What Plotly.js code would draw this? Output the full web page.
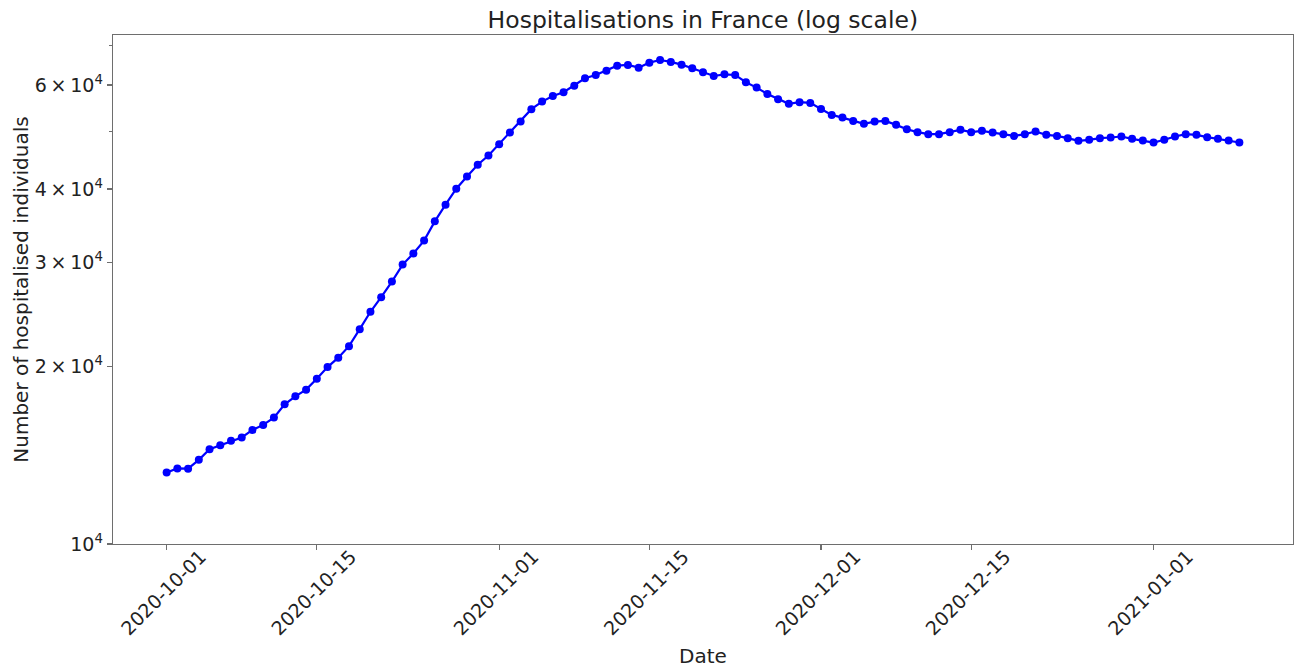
<!DOCTYPE html>
<html>
<head>
<meta charset="utf-8">
<script src="https://cdn.plot.ly/plotly-3.0.1.min.js"></script>
<style>html,body{margin:0;padding:0;background:#fff;}#chart{width:1298px;height:669px;}</style>
</head>
<body>
<div id="chart"></div>
<script>
const dates = [
"2020-10-01","2020-10-02","2020-10-03","2020-10-04","2020-10-05","2020-10-06","2020-10-07","2020-10-08","2020-10-09","2020-10-10",
"2020-10-11","2020-10-12","2020-10-13","2020-10-14","2020-10-15","2020-10-16","2020-10-17","2020-10-18","2020-10-19","2020-10-20",
"2020-10-21","2020-10-22","2020-10-23","2020-10-24","2020-10-25","2020-10-26","2020-10-27","2020-10-28","2020-10-29","2020-10-30",
"2020-10-31","2020-11-01","2020-11-02","2020-11-03","2020-11-04","2020-11-05","2020-11-06","2020-11-07","2020-11-08","2020-11-09",
"2020-11-10","2020-11-11","2020-11-12","2020-11-13","2020-11-14","2020-11-15","2020-11-16","2020-11-17","2020-11-18","2020-11-19",
"2020-11-20","2020-11-21","2020-11-22","2020-11-23","2020-11-24","2020-11-25","2020-11-26","2020-11-27","2020-11-28","2020-11-29",
"2020-11-30","2020-12-01","2020-12-02","2020-12-03","2020-12-04","2020-12-05","2020-12-06","2020-12-07","2020-12-08","2020-12-09",
"2020-12-10","2020-12-11","2020-12-12","2020-12-13","2020-12-14","2020-12-15","2020-12-16","2020-12-17","2020-12-18","2020-12-19",
"2020-12-20","2020-12-21","2020-12-22","2020-12-23","2020-12-24","2020-12-25","2020-12-26","2020-12-27","2020-12-28","2020-12-29",
"2020-12-30","2020-12-31","2021-01-01","2021-01-02","2021-01-03","2021-01-04","2021-01-05","2021-01-06","2021-01-07","2021-01-08",
"2021-01-09"
];
const hospitalised = [
13220,13430,13420,13890,14480,14710,14960,15160,15610,15920,
16380,17250,17800,18270,19070,19950,20700,21650,23130,24760,
26210,27860,29770,31080,32690,35240,37610,40040,42000,43950,
45570,47640,49840,52020,54600,56250,57500,58340,59860,61610,
62410,63460,64710,64890,64210,65480,66160,65660,64970,64060,
63060,62160,62570,62410,60660,59400,57960,56780,55750,56120,
55960,54660,53400,52840,52160,51570,52020,52160,51360,50500,
49920,49530,49530,49920,50370,49920,50180,49840,49530,49200,
49530,50040,49400,49200,48770,48260,48450,48770,48890,49080,
48640,48320,47940,48450,49080,49530,49400,48960,48640,48320,
47940
];
const xTickVals = ["2020-10-01","2020-10-15","2020-11-01","2020-11-15","2020-12-01","2020-12-15","2021-01-01"];
const xTickText = ["2020-10-01","2020-10-15","2020-11-01","2020-11-15","2020-12-01","2020-12-15","2021-01-01"];
const yTickVals = [10000,20000,30000,40000,60000];
const yTickText = ["10<sup>4</sup>","2\u2009×\u200910<sup>4</sup>","3\u2009×\u200910<sup>4</sup>","4\u2009×\u200910<sup>4</sup>","6\u2009×\u200910<sup>4</sup>"];
const yMinorVals = [50000,70000];

const font = "DejaVu Sans, Arial, sans-serif";
const axisColor = "#6e6e6e";
const textColor = "#222";

const trace = {
  x: dates, y: hospitalised, type: "scatter", mode: "lines+markers",
  line: {color: "#0000ff", width: 2.2},
  marker: {color: "#0000ff", size: 8},
  hoverinfo: "x+y"
};

const layout = {
  width: 1298, height: 669,
  margin: {l: 113, r: 5, t: 35, b: 125},
  paper_bgcolor: "#fff", plot_bgcolor: "#fff",
  showlegend: false,
  font: {family: font, color: textColor, size: 19},
  title: {text: "Hospitalisations in France (log scale)", x: 0.5415, xanchor: "center", y: 0.97, yanchor: "middle",
          font: {family: font, size: 23.5, color: textColor}},
  xaxis: {
    type: "date",
    range: ["2020-09-26", "2021-01-14"],
    tickmode: "array", tickvals: xTickVals, ticktext: xTickText,
    tickangle: -45, ticks: "outside", ticklen: 5, tickcolor: axisColor, tickwidth: 1.2,
    ticklabelshift: 34, ticklabelstandoff: -12,
    showgrid: false, zeroline: false,
    showline: true, linecolor: axisColor, linewidth: 1.3, mirror: true,
    tickfont: {family: font, size: 19, color: textColor},
    title: {text: "Date", font: {family: font, size: 20, color: textColor}, standoff: 10},
    automargin: false
  },
  yaxis: {
    type: "log",
    range: [4, 4.863],
    tickmode: "array", tickvals: yTickVals, ticktext: yTickText,
    ticks: "outside", ticklen: 5, tickcolor: axisColor, tickwidth: 1.2,
    minor: {tickvals: yMinorVals, ticks: "outside", ticklen: 3, tickcolor: axisColor, tickwidth: 1, showgrid: false},
    showgrid: false, zeroline: false,
    showline: true, linecolor: axisColor, linewidth: 1.3, mirror: true,
    tickfont: {family: font, size: 19, color: textColor},
    title: {text: "Number of hospitalised individuals", font: {family: font, size: 20, color: textColor}, standoff: 0},
    automargin: false
  }
};

Plotly.newPlot("chart", [trace], layout, {displayModeBar: false, staticPlot: true});
</script>
</body>
</html>
